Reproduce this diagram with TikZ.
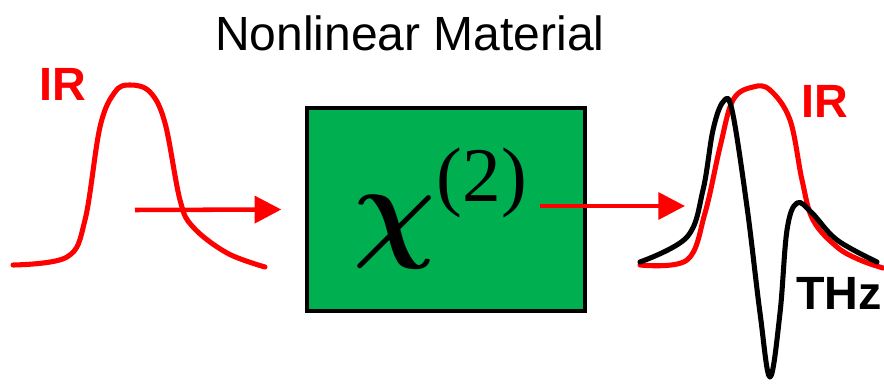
\documentclass[tikz,border=0pt]{standalone}
\usepackage{graphicx}
\usepackage{fontspec}
\setmainfont{Liberation Sans}
\newfontfamily\chifont{Liberation Serif}
\definecolor{irred}{HTML}{FF0000}
\definecolor{matgreen}{HTML}{00B050}
\usepackage{tikz}
\usetikzlibrary{calc, positioning, arrows.meta}

\tikzset{
  pulse/.style={line width=3.8pt, line join=round, line cap=round},
  beam/.style={irred, line width=3.4pt, -{Triangle[length=20pt,width=20pt]}},
  tag/.style={font=\fontsize{35}{35}\selectfont\bfseries, inner sep=0pt}
}

\begin{document}
\begin{tikzpicture}[x=0.75pt, y=-0.75pt]
  \useasboundingbox (0,0) rectangle (884,384);
  % title and crystal
  \node[font=\fontsize{36}{36}\selectfont, inner sep=0pt] (title) at (410,33) {Nonlinear Material};
  \node[draw=black, fill=matgreen, line width=3pt, minimum width=208pt, minimum height=152pt] (box) at (446,209.5) {};
  \node[inner sep=0pt, font=\chifont] (chi) at (440,208)
    {\scalebox{8.6}{\boldmath$\chi$}\hspace{1pt}\raisebox{34pt}{\fontsize{58}{58}\selectfont(2)}};
  % input pulse
  \draw[pulse, irred] plot[smooth, tension=0.6] coordinates {(13,265) (67,257) (85,220) (100,127) (115,92) (130,85) (150,92) (165,123) (180,200) (193,227) (227,253) (265,267)};
  \node[tag, irred] (irin) at (63,84) {IR};
  % output pulses
  \draw[pulse, irred] plot[smooth, tension=0.6] coordinates {(640,265) (687,260) (705,213) (720,147) (733,100) (753,87) (770,90) (790,120) (802,180) (813,220) (837,247) (860,260) (883,268)};
  \draw[pulse, black] plot[smooth, tension=0.6] coordinates {(640,262) (687,237) (703,190) (713,130) (723,102) (732,110) (747,207) (760,313) (770,377) (780,313) (787,230) (797,203) (812,213) (837,240) (877,262)};
  \node[tag, irred] (irout) at (825,101) {IR};
  \node[tag, black] (thz) at (839,293) {THz};
  % beams
  \coordinate (inA) at (135,210);
  \coordinate (inB) at ($(box.west)+(-24,0)$);
  \coordinate (outA) at (540,206);
  \coordinate (outB) at (685,206);
  \draw[beam] (inA) -- (inB);
  \draw[beam] (outA) -- (outB);
\end{tikzpicture}
\end{document}
